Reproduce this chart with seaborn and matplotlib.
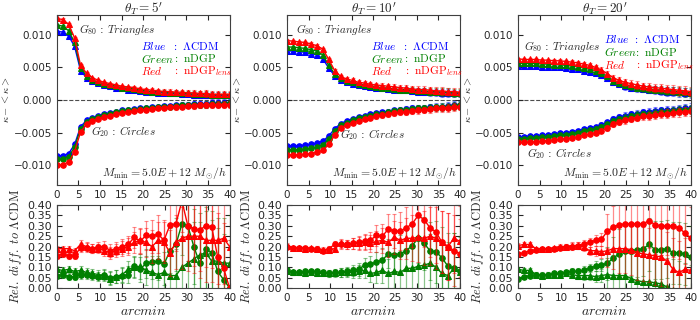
import matplotlib
matplotlib.use("Agg")
import matplotlib.pyplot as plt
from matplotlib.ticker import MultipleLocator
import seaborn as sns

sns.set_style("ticks", {"xtick.direction": "in", "ytick.direction": "in",
                        "axes.edgecolor": "0.25"})
plt.rcParams['font.family'] = ['DejaVu Sans']
plt.rcParams['mathtext.fontset'] = 'cm'

arcmin = [0.0, 1.38, 2.76, 4.14, 5.52, 6.9, 8.28, 9.66, 11.03, 12.41, 13.79, 15.17, 16.55, 17.93, 19.31,
          20.69, 22.07, 23.45, 24.83, 26.21, 27.59, 28.97, 30.34, 31.72, 33.1, 34.48, 35.86, 37.24, 38.62, 40.0]
thetas = ["5'", "10'", "20'"]

# theta_T = 5'
g80_lcdm_5 = [0.0105, 0.0104, 0.0098, 0.0082, 0.0045, 0.0034, 0.0029, 0.0026, 0.0023, 0.0021, 0.0019, 0.0018, 0.0016, 0.0015, 0.0014, 0.0013, 0.0012, 0.0011, 0.0011, 0.0010, 0.0010, 0.0009, 0.0009, 0.0008, 0.0008, 0.0008, 0.0007, 0.0007, 0.0007, 0.0007]
g80_ndgp_5 = [0.0115, 0.0113, 0.0106, 0.0088, 0.0049, 0.0037, 0.0031, 0.0027, 0.0025, 0.0023, 0.0021, 0.0019, 0.0018, 0.0017, 0.0015, 0.0014, 0.0013, 0.0013, 0.0012, 0.0011, 0.0011, 0.0010, 0.0010, 0.0009, 0.0009, 0.0009, 0.0008, 0.0008, 0.0008, 0.0008]
g80_lens_5 = [0.0125, 0.0123, 0.0116, 0.0095, 0.0053, 0.0041, 0.0034, 0.0030, 0.0027, 0.0025, 0.0023, 0.0021, 0.0020, 0.0019, 0.0017, 0.0016, 0.0015, 0.0014, 0.0013, 0.0013, 0.0012, 0.0012, 0.0011, 0.0011, 0.0010, 0.0010, 0.0009, 0.0009, 0.0009, 0.0009]
g20_lcdm_5 = [-0.0086, -0.0085, -0.0082, -0.0068, -0.0041, -0.0031, -0.0027, -0.0024, -0.0022, -0.0020, -0.0018, -0.0016, -0.0015, -0.0014, -0.0013, -0.0012, -0.0011, -0.0010, -0.0009, -0.0009, -0.0008, -0.0007, -0.0007, -0.0006, -0.0006, -0.0006, -0.0005, -0.0005, -0.0005, -0.0004]
g20_ndgp_5 = [-0.0091, -0.0090, -0.0087, -0.0072, -0.0044, -0.0033, -0.0029, -0.0026, -0.0023, -0.0021, -0.0019, -0.0017, -0.0016, -0.0015, -0.0014, -0.0013, -0.0012, -0.0011, -0.0010, -0.0010, -0.0009, -0.0008, -0.0008, -0.0007, -0.0007, -0.0007, -0.0006, -0.0006, -0.0006, -0.0005]
g20_lens_5 = [-0.0100, -0.0099, -0.0095, -0.0079, -0.0049, -0.0037, -0.0032, -0.0029, -0.0026, -0.0024, -0.0022, -0.0020, -0.0018, -0.0017, -0.0016, -0.0015, -0.0014, -0.0013, -0.0012, -0.0011, -0.0011, -0.0010, -0.0009, -0.0009, -0.0008, -0.0008, -0.0008, -0.0007, -0.0007, -0.0007]
err_top_5 = [0.0002, 0.0002, 0.0002, 0.0002, 0.0002, 0.00015, 0.00015, 0.00015, 0.00015, 0.00015, 0.0002, 0.0002, 0.0002, 0.00025, 0.00025, 0.0003, 0.0003, 0.0003, 0.00035, 0.00035, 0.0004, 0.0004, 0.0004, 0.00045, 0.00045, 0.0005, 0.0005, 0.0005, 0.0005, 0.0005]
rel_g80_ndgp_5 = [0.09, 0.085, 0.09, 0.08, 0.085, 0.075, 0.07, 0.065, 0.06, 0.045, 0.055, 0.065, 0.09, 0.10, 0.105, 0.085, 0.075, 0.065, 0.075, 0.06, 0.06, 0.10, 0.12, 0.14, 0.16, 0.17, 0.13, 0.13, 0.12, 0.12]
rel_g80_lens_5 = [0.19, 0.19, 0.19, 0.18, 0.21, 0.20, 0.19, 0.19, 0.18, 0.17, 0.18, 0.19, 0.20, 0.22, 0.23, 0.22, 0.20, 0.23, 0.22, 0.17, 0.22, 0.24, 0.25, 0.25, 0.25, 0.23, 0.23, 0.23, 0.24, 0.20]
rel_g20_ndgp_5 = [0.06, 0.065, 0.055, 0.055, 0.065, 0.065, 0.06, 0.055, 0.065, 0.05, 0.055, 0.06, 0.065, 0.105, 0.09, 0.12, 0.125, 0.13, 0.115, 0.18, 0.21, 0.31, 0.30, 0.20, 0.12, 0.19, 0.17, 0.08, 0.04, 0.0]
rel_g20_lens_5 = [0.155, 0.165, 0.155, 0.155, 0.195, 0.195, 0.19, 0.20, 0.20, 0.18, 0.19, 0.20, 0.21, 0.245, 0.225, 0.255, 0.25, 0.26, 0.23, 0.305, 0.31, 0.42, 0.30, 0.285, 0.28, 0.30, 0.295, 0.15, 0.095, 0.0]
err_rel_5 = [0.015, 0.015, 0.015, 0.015, 0.02, 0.02, 0.02, 0.02, 0.025, 0.03, 0.03, 0.035, 0.04, 0.05, 0.06, 0.07, 0.08, 0.09, 0.10, 0.11, 0.13, 0.15, 0.17, 0.18, 0.20, 0.20, 0.20, 0.21, 0.22, 0.23]

# theta_T = 10'
g80_lcdm_10 = [0.0075, 0.0075, 0.0074, 0.0073, 0.0071, 0.0069, 0.0063, 0.0049, 0.0037, 0.0030, 0.0027, 0.0025, 0.0023, 0.0021, 0.0020, 0.0019, 0.0018, 0.0017, 0.0016, 0.0015, 0.0015, 0.0014, 0.0013, 0.0013, 0.0012, 0.0012, 0.0011, 0.0011, 0.0010, 0.0010]
g80_ndgp_10 = [0.0081, 0.0081, 0.0080, 0.0079, 0.0077, 0.0075, 0.0069, 0.0053, 0.0040, 0.0033, 0.0029, 0.0027, 0.0025, 0.0023, 0.0022, 0.0020, 0.0019, 0.0018, 0.0017, 0.0016, 0.0016, 0.0015, 0.0014, 0.0014, 0.0013, 0.0013, 0.0012, 0.0012, 0.0011, 0.0011]
g80_lens_10 = [0.0091, 0.0090, 0.0089, 0.0088, 0.0086, 0.0083, 0.0078, 0.0062, 0.0045, 0.0036, 0.0032, 0.0030, 0.0027, 0.0026, 0.0024, 0.0023, 0.0022, 0.0021, 0.0020, 0.0019, 0.0018, 0.0017, 0.0016, 0.0016, 0.0015, 0.0014, 0.0014, 0.0013, 0.0013, 0.0012]
g20_lcdm_10 = [-0.0070, -0.0070, -0.0070, -0.0069, -0.0068, -0.0066, -0.0063, -0.0055, -0.0044, -0.0036, -0.0032, -0.0029, -0.0026, -0.0024, -0.0022, -0.0020, -0.0019, -0.0018, -0.0016, -0.0015, -0.0014, -0.0013, -0.0012, -0.0012, -0.0011, -0.0010, -0.0010, -0.0009, -0.0008, -0.0007]
g20_ndgp_10 = [-0.0076, -0.0076, -0.0076, -0.0075, -0.0074, -0.0072, -0.0069, -0.0060, -0.0048, -0.0039, -0.0035, -0.0031, -0.0028, -0.0026, -0.0024, -0.0022, -0.0021, -0.0019, -0.0017, -0.0016, -0.0015, -0.0014, -0.0013, -0.0013, -0.0012, -0.0011, -0.0011, -0.0010, -0.0009, -0.0008]
g20_lens_10 = [-0.0084, -0.0084, -0.0084, -0.0083, -0.0082, -0.0080, -0.0077, -0.0068, -0.0054, -0.0043, -0.0038, -0.0035, -0.0032, -0.0029, -0.0027, -0.0025, -0.0023, -0.0022, -0.0020, -0.0019, -0.0018, -0.0017, -0.0016, -0.0015, -0.0014, -0.0013, -0.0013, -0.0012, -0.0011, -0.0010]
err_top_10 = [0.0002, 0.0002, 0.0002, 0.0002, 0.0002, 0.0002, 0.0002, 0.0002, 0.0002, 0.00025, 0.00025, 0.0003, 0.0003, 0.0003, 0.00035, 0.00035, 0.0004, 0.0004, 0.0004, 0.00045, 0.00045, 0.0005, 0.0005, 0.0005, 0.00055, 0.00055, 0.0006, 0.0006, 0.0006, 0.0006]
rel_g80_ndgp_10 = [0.08, 0.075, 0.075, 0.07, 0.075, 0.07, 0.07, 0.07, 0.07, 0.075, 0.075, 0.075, 0.08, 0.085, 0.07, 0.075, 0.085, 0.07, 0.08, 0.075, 0.095, 0.095, 0.105, 0.11, 0.12, 0.10, 0.07, 0.06, 0.095, 0.075]
rel_g80_lens_10 = [0.205, 0.195, 0.195, 0.19, 0.195, 0.19, 0.185, 0.185, 0.19, 0.215, 0.21, 0.215, 0.215, 0.22, 0.215, 0.225, 0.23, 0.22, 0.245, 0.23, 0.24, 0.24, 0.245, 0.24, 0.25, 0.24, 0.22, 0.20, 0.24, 0.225]
rel_g20_ndgp_10 = [0.085, 0.075, 0.075, 0.08, 0.08, 0.08, 0.075, 0.07, 0.075, 0.075, 0.08, 0.085, 0.09, 0.11, 0.115, 0.125, 0.135, 0.165, 0.16, 0.165, 0.18, 0.205, 0.24, 0.215, 0.18, 0.175, 0.145, 0.105, 0.095, 0.08]
rel_g20_lens_10 = [0.20, 0.195, 0.195, 0.195, 0.19, 0.19, 0.18, 0.19, 0.21, 0.21, 0.21, 0.215, 0.22, 0.225, 0.23, 0.255, 0.25, 0.285, 0.275, 0.275, 0.29, 0.31, 0.35, 0.33, 0.29, 0.27, 0.22, 0.20, 0.18, 0.165]
err_rel_10 = [0.01, 0.01, 0.01, 0.01, 0.01, 0.012, 0.012, 0.015, 0.015, 0.02, 0.02, 0.025, 0.03, 0.035, 0.04, 0.05, 0.06, 0.07, 0.08, 0.09, 0.10, 0.11, 0.12, 0.13, 0.14, 0.15, 0.15, 0.16, 0.17, 0.17]

# theta_T = 20'
g80_lcdm_20 = [0.0052, 0.0052, 0.0052, 0.0052, 0.0051, 0.0051, 0.0050, 0.0050, 0.0049, 0.0048, 0.0047, 0.0045, 0.0043, 0.0041, 0.0038, 0.0033, 0.0027, 0.0024, 0.0021, 0.0019, 0.0018, 0.0017, 0.0016, 0.0015, 0.0014, 0.0013, 0.0013, 0.0012, 0.0011, 0.0010]
g80_ndgp_20 = [0.0056, 0.0056, 0.0056, 0.0056, 0.0055, 0.0055, 0.0054, 0.0054, 0.0053, 0.0052, 0.0051, 0.0049, 0.0047, 0.0045, 0.0041, 0.0036, 0.0029, 0.0026, 0.0023, 0.0021, 0.0019, 0.0018, 0.0017, 0.0016, 0.0015, 0.0014, 0.0014, 0.0013, 0.0012, 0.0011]
g80_lens_20 = [0.0063, 0.0062, 0.0062, 0.0062, 0.0061, 0.0061, 0.0060, 0.0060, 0.0059, 0.0058, 0.0057, 0.0055, 0.0053, 0.0050, 0.0046, 0.0040, 0.0034, 0.0030, 0.0027, 0.0025, 0.0023, 0.0021, 0.0020, 0.0019, 0.0018, 0.0017, 0.0016, 0.0015, 0.0014, 0.0013]
g20_lcdm_20 = [-0.0056, -0.0056, -0.0055, -0.0055, -0.0054, -0.0053, -0.0052, -0.0051, -0.0050, -0.0049, -0.0047, -0.0045, -0.0043, -0.0041, -0.0038, -0.0034, -0.0029, -0.0026, -0.0024, -0.0022, -0.0021, -0.0019, -0.0018, -0.0017, -0.0016, -0.0015, -0.0015, -0.0014, -0.0013, -0.0012]
g20_ndgp_20 = [-0.0059, -0.0059, -0.0058, -0.0058, -0.0057, -0.0056, -0.0055, -0.0054, -0.0053, -0.0052, -0.0050, -0.0048, -0.0046, -0.0044, -0.0041, -0.0037, -0.0032, -0.0029, -0.0027, -0.0025, -0.0023, -0.0022, -0.0021, -0.0020, -0.0019, -0.0018, -0.0017, -0.0016, -0.0015, -0.0014]
g20_lens_20 = [-0.0065, -0.0065, -0.0064, -0.0064, -0.0063, -0.0062, -0.0061, -0.0060, -0.0059, -0.0058, -0.0056, -0.0054, -0.0052, -0.0050, -0.0047, -0.0043, -0.0037, -0.0034, -0.0031, -0.0029, -0.0027, -0.0025, -0.0024, -0.0023, -0.0022, -0.0021, -0.0020, -0.0019, -0.0018, -0.0017]
err_top_20 = [0.0002, 0.0002, 0.0002, 0.0002, 0.0002, 0.0002, 0.00025, 0.00025, 0.00025, 0.0003, 0.0003, 0.0003, 0.00035, 0.00035, 0.0004, 0.0004, 0.00045, 0.00045, 0.0005, 0.0005, 0.00055, 0.00055, 0.0006, 0.0006, 0.0006, 0.00065, 0.00065, 0.0007, 0.0007, 0.0007]
rel_g80_ndgp_20 = [0.09, 0.085, 0.085, 0.065, 0.06, 0.065, 0.065, 0.065, 0.07, 0.065, 0.06, 0.06, 0.06, 0.055, 0.06, 0.065, 0.06, 0.06, 0.06, 0.045, 0.035, 0.03, 0.03, 0.025, 0.02, 0.005, -0.01, -0.02, -0.03, -0.04]
rel_g80_lens_20 = [0.205, 0.21, 0.21, 0.19, 0.19, 0.19, 0.195, 0.20, 0.20, 0.205, 0.205, 0.20, 0.18, 0.18, 0.175, 0.18, 0.19, 0.19, 0.19, 0.185, 0.17, 0.165, 0.16, 0.155, 0.15, 0.13, 0.09, 0.075, 0.09, 0.085]
rel_g20_ndgp_20 = [0.045, 0.055, 0.06, 0.065, 0.065, 0.065, 0.07, 0.07, 0.075, 0.08, 0.08, 0.085, 0.095, 0.105, 0.11, 0.12, 0.145, 0.165, 0.18, 0.18, 0.185, 0.19, 0.21, 0.185, 0.185, 0.19, 0.17, 0.17, 0.165, 0.15]
rel_g20_lens_20 = [0.165, 0.17, 0.18, 0.185, 0.19, 0.19, 0.19, 0.195, 0.20, 0.20, 0.205, 0.21, 0.22, 0.23, 0.235, 0.275, 0.295, 0.305, 0.31, 0.31, 0.31, 0.31, 0.325, 0.305, 0.30, 0.30, 0.30, 0.29, 0.265, 0.24]
err_rel_20 = [0.01, 0.01, 0.01, 0.01, 0.01, 0.01, 0.01, 0.012, 0.012, 0.015, 0.015, 0.02, 0.02, 0.025, 0.03, 0.08, 0.10, 0.12, 0.12, 0.12, 0.13, 0.13, 0.13, 0.14, 0.14, 0.14, 0.15, 0.15, 0.15, 0.15]

top_data = [
    [(g80_lcdm_5, g20_lcdm_5), (g80_ndgp_5, g20_ndgp_5), (g80_lens_5, g20_lens_5)],
    [(g80_lcdm_10, g20_lcdm_10), (g80_ndgp_10, g20_ndgp_10), (g80_lens_10, g20_lens_10)],
    [(g80_lcdm_20, g20_lcdm_20), (g80_ndgp_20, g20_ndgp_20), (g80_lens_20, g20_lens_20)],
]
top_err = [err_top_5, err_top_10, err_top_20]
bot_data = [
    [(rel_g80_ndgp_5, rel_g20_ndgp_5), (rel_g80_lens_5, rel_g20_lens_5)],
    [(rel_g80_ndgp_10, rel_g20_ndgp_10), (rel_g80_lens_10, rel_g20_lens_10)],
    [(rel_g80_ndgp_20, rel_g20_ndgp_20), (rel_g80_lens_20, rel_g20_lens_20)],
]
bot_err = [err_rel_5, err_rel_10, err_rel_20]

blue, green, red = '#0000ff', '#008000', '#ff0000'
top_colors = [blue, green, red]
bot_colors = [green, red]

# text placement (data coords) for each panel
g80_pos = [(5.2, 0.0108), (2.0, 0.0108), (1.5, 0.0082)]
g20_pos = [(8.0, -0.0048), (12.3, -0.0053), (2.0, -0.0082)]
key_pos = [(19.5, 0.0083), (19.5, 0.0083), (19.8, 0.0094)]
key_step = [0.0019, 0.0019, 0.0020]
key_names = [r"$Blue$", r"$Green$", r"$Red$"]
key_models = [r"$:\ \Lambda\mathrm{CDM}$", r"$:\ \mathrm{nDGP}$", r"$:\ \mathrm{nDGP}_{lens}$"]
key_colon_x = [26.7, 26.9, 27.0]

lefts = [0.081, 0.410, 0.740]
width = 0.247

fig = plt.figure(figsize=(7, 3.2), dpi=100)


def draw(ax, y, err, color, marker):
    ax.errorbar(arcmin, y, yerr=err, fmt='none', ecolor=color, alpha=0.45,
                elinewidth=0.9, capsize=1.5, capthick=0.8)
    sns.lineplot(x=arcmin, y=y, ax=ax, color=color, marker=marker, markersize=4,
                 markeredgecolor=color, linewidth=1.0, estimator=None, sort=False)


for p in range(3):
    ax = fig.add_axes([lefts[p], 0.422, width, 0.531])
    for (g80, g20), c in zip(top_data[p], top_colors):
        draw(ax, g80, top_err[p], c, '^')
        draw(ax, g20, top_err[p], c, 'o')
    ax.axhline(0, ls='--', color='0.3', lw=0.8, zorder=0)
    ax.set_xlim(0, 40)
    ax.set_ylim(-0.013, 0.013)
    ax.xaxis.set_major_locator(MultipleLocator(5))
    ax.yaxis.set_major_locator(MultipleLocator(0.005))
    ax.tick_params(top=True, right=True, labelsize=7.5, length=3.5, width=0.8)
    ax.set_title(r"$\theta_T = %s$" % thetas[p], fontsize=9.5, pad=2)
    ax.set_ylabel(r"$\kappa - <\kappa>$", fontsize=7.5, labelpad=1)
    ax.text(*g80_pos[p], r"$G_{80}$ : $Triangles$", fontsize=8, va='center')
    ax.text(*g20_pos[p], r"$G_{20}$ : $Circles$", fontsize=8, va='center')
    kx, ky = key_pos[p]
    for i, c in enumerate(top_colors):
        yy = ky - i * key_step[p]
        ax.text(kx, yy, key_names[i], color=c, fontsize=8.2, va='center')
        ax.text(key_colon_x[i], yy, key_models[i], color=c, fontsize=8.2, va='center')
    ax.text(39.3, -0.0112, r"$M_{\rm min} = 5.0E+12\ M_{\odot}/h$", fontsize=8.5, ha='right', va='center')
    for s in ax.spines.values():
        s.set_linewidth(0.8)

    bx = fig.add_axes([lefts[p], 0.10, width, 0.259])
    for (g80, g20), c in zip(bot_data[p], bot_colors):
        draw(bx, g80, bot_err[p], c, '^')
        draw(bx, g20, bot_err[p], c, 'o')
    bx.set_xlim(0, 40)
    bx.set_ylim(0, 0.40)
    bx.xaxis.set_major_locator(MultipleLocator(5))
    bx.yaxis.set_major_locator(MultipleLocator(0.05))
    bx.tick_params(top=True, right=True, length=3.5, width=0.8)
    bx.tick_params(axis='x', labelsize=7.5)
    bx.tick_params(axis='y', labelsize=8)
    bx.set_xlabel(r"$arcmin$", fontsize=10, labelpad=1)
    bx.set_ylabel(r"$Rel.\ diff.\ to\ \Lambda\mathrm{CDM}$", fontsize=9, labelpad=2)
    for s in bx.spines.values():
        s.set_linewidth(0.8)

fig.savefig("out.png", dpi=100)
